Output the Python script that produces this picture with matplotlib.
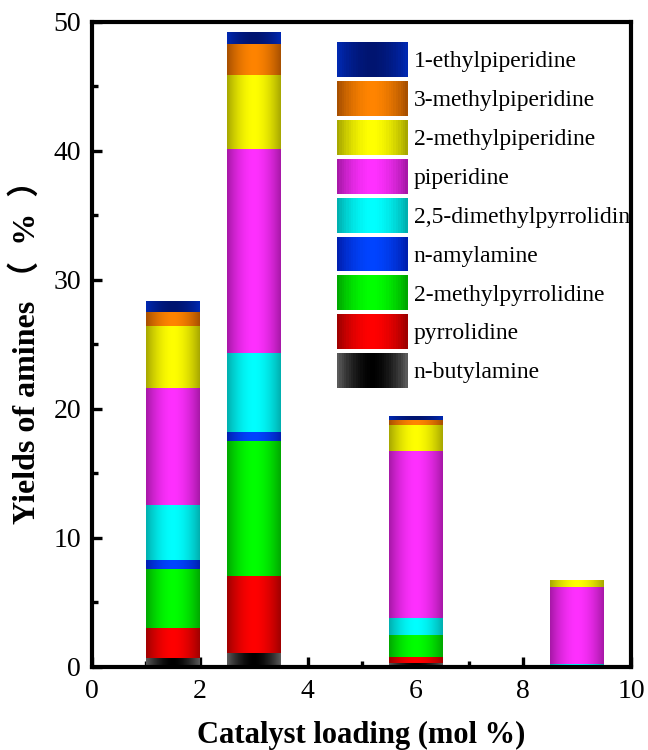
import numpy as np
import matplotlib.pyplot as plt
from matplotlib.colors import to_rgb
from matplotlib.patches import Rectangle
from matplotlib.legend_handler import HandlerBase

plt.rcParams['font.family'] = ['Liberation Serif', 'Noto Sans CJK SC']

# Catalyst loading (mol %) and the yields (%) of each amine, bottom to top of the stack
loading = [1.5, 3, 6, 9]
amines = ['n-butylamine', 'pyrrolidine', '2-methylpyrrolidine', 'n-amylamine',
          '2,5-dimethylpyrrolidine', 'piperidine', '2-methylpiperidine',
          '3-methylpiperidine', '1-ethylpiperidine']
n_butylamine = [0.7, 1.06, 0.3, 0.0]
pyrrolidine = [2.3, 6.0, 0.45, 0.0]
methylpyrrolidine_2 = [4.6, 10.45, 1.7, 0.0]
n_amylamine = [0.7, 0.7, 0.0, 0.0]
dimethylpyrrolidine_25 = [4.2, 6.1, 1.3, 0.2]
piperidine = [9.1, 15.8, 13.0, 6.0]
methylpiperidine_2 = [4.8, 5.8, 2.0, 0.5]
methylpiperidine_3 = [1.1, 2.4, 0.35, 0.0]
ethylpiperidine_1 = [0.8, 0.9, 0.25, 0.0]

series = [n_butylamine, pyrrolidine, methylpyrrolidine_2, n_amylamine,
          dimethylpyrrolidine_25, piperidine, methylpiperidine_2,
          methylpiperidine_3, ethylpiperidine_1]

# cylinder look: colour in the middle of the bar and at its edges
center_colors = ['#000000', '#ff0000', '#00ff00', '#0044ff', '#00ffff',
                 '#ff30ff', '#ffff00', '#ff8400', '#001470']
edge_colors = ['#5a5a5a', '#a00000', '#00a800', '#0020b0', '#00b0b0',
               '#a818a8', '#a8a800', '#a85000', '#0028b0']


def gradient(center, edge, n=64):
    """Horizontal colour profile: edge colour at both sides, centre colour in the middle."""
    t = np.linspace(-1, 1, n)
    w = (1 - np.abs(t) ** 1.8)[:, None]
    c = np.array(to_rgb(center))
    e = np.array(to_rgb(edge))
    return e + (c - e) * w


class GradientHandler(HandlerBase):
    def __init__(self, center, edge):
        super().__init__()
        self.colors = gradient(center, edge, 30)

    def create_artists(self, legend, orig_handle, xdescent, ydescent,
                       width, height, fontsize, trans):
        n = len(self.colors)
        strips = []
        for i, col in enumerate(self.colors):
            strips.append(Rectangle((-xdescent + width * i / n, -ydescent),
                                    width / n * 1.05, height, facecolor=col,
                                    edgecolor='none', transform=trans))
        return strips


fig = plt.figure(figsize=(6.48, 7.5), dpi=100)
ax = fig.add_axes([0.142, 0.111, 0.832, 0.860])

bottom = np.zeros(len(loading))
handles = []
for name, vals, cc, ec in zip(amines, series, center_colors, edge_colors):
    bars = ax.bar(loading, vals, width=1.0, bottom=bottom, color=cc, label=name)
    grad = gradient(cc, ec)[None, :, :]
    for p in bars.patches:
        x0, y0 = p.get_xy()
        w, h = p.get_width(), p.get_height()
        p.set_visible(False)
        if h <= 0:
            continue
        ax.imshow(grad, extent=[x0, x0 + w, y0, y0 + h], aspect='auto',
                  interpolation='bilinear', zorder=2)
    handles.append(bars.patches[0])
    bottom += np.array(vals)

ax.set_xlim(0, 10)
ax.set_ylim(0, 50)
ax.set_xticks([0, 2, 4, 6, 8, 10])
ax.set_xticks([1, 3, 5, 7, 9], minor=True)
ax.set_yticks([0, 10, 20, 30, 40, 50])
ax.set_yticks([5, 15, 25, 35, 45], minor=True)
ax.tick_params(which='major', direction='in', length=7, width=2.4, labelsize=20, pad=8)
ax.tick_params(which='minor', direction='in', length=4, width=2.4)
ax.tick_params(axis='x', pad=9)
for s in ax.spines.values():
    s.set_linewidth(3)
    s.set_zorder(6)

ax.set_xlabel('Catalyst loading (mol %)', fontsize=22, fontweight='bold', labelpad=12)
ax.set_ylabel('Yields of amines （  %  ）', fontsize=23, fontweight='bold', labelpad=8)

handler_map = {h: GradientHandler(cc, ec) for h, cc, ec in zip(handles, center_colors, edge_colors)}
leg = ax.legend(handles[::-1], amines[::-1], handler_map=handler_map,
                loc='upper left', bbox_to_anchor=(0.454, 0.969), frameon=False,
                fontsize=17, handlelength=3.0, handleheight=1.90, labelspacing=0.17,
                handletextpad=0.25, borderpad=0, borderaxespad=0)
for t in leg.get_texts():
    t.set_clip_box(ax.bbox)
    t.set_clip_on(True)

plt.savefig('out.png', dpi=100)
